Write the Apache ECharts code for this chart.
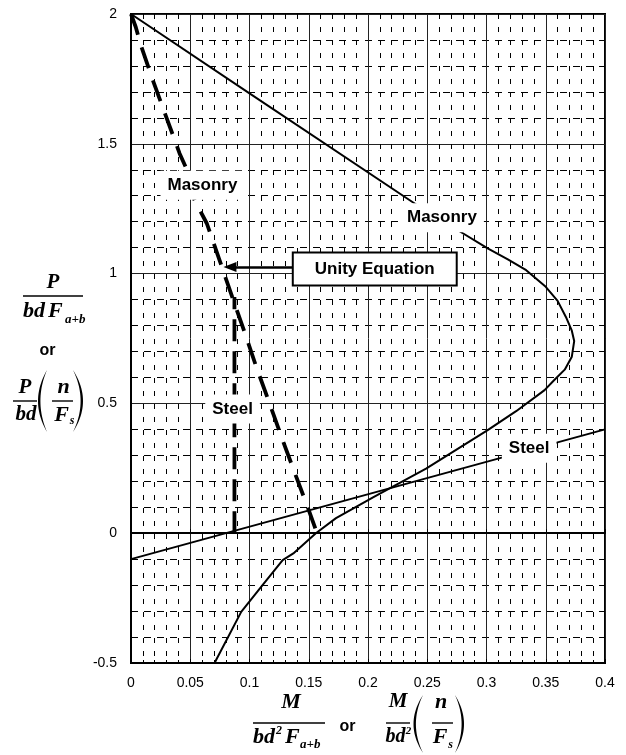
<!DOCTYPE html>
<html>
<head>
<meta charset="utf-8">
<script src="https://cdn.jsdelivr.net/npm/echarts@6/dist/echarts.min.js"></script>
<style>
  html, body { margin: 0; padding: 0; background: #fff; }
  #chart { width: 626px; height: 755px; }
</style>
</head>
<body>
<div id="chart"></div>
<script>
// axis ticks
const xTickLabels = ['0', '0.05', '0.1', '0.15', '0.2', '0.25', '0.3', '0.35', '0.4']
const yTickLabels = ['-0.5', '0', '0.5', '1', '1.5', '2']

// curves, [M/bd²F, P/bdF]
const masonry = [
  [0, 2], [0.1, 1.694], [0.24, 1.268], [0.2755, 1.168], [0.301, 1.097], [0.318, 1.055],
  [0.3335, 1.013], [0.35, 0.949], [0.36, 0.895], [0.367, 0.833], [0.372, 0.78], [0.374, 0.74],
  [0.372, 0.68], [0.366, 0.63], [0.357, 0.589], [0.349, 0.551], [0.325, 0.47], [0.301, 0.397],
  [0.249, 0.249], [0.205, 0.14], [0.173, 0.058], [0.156, 0], [0.137, -0.078], [0.128, -0.104],
  [0.111, -0.2], [0.093, -0.303], [0.0705, -0.5]
]
const steel = [[0, -0.1], [0.4, 0.4]]
const unity = [
  [0, 2], [0.004, 1.95], [0.0078, 1.887], [0.0184, 1.745], [0.0297, 1.604], [0.041, 1.463],
  [0.048, 1.392], [0.0536, 1.283], [0.064, 1.193], [0.0747, 1.052], [0.0854, 0.91],
  [0.0958, 0.775], [0.1057, 0.641], [0.1169, 0.5], [0.128, 0.358], [0.139, 0.223],
  [0.15, 0.089], [0.157, 0]
]
const steelUnity = [[0.0873, 0], [0.0873, 0.91]]

// curve names placed on the chart
const curveLabels = [
  [0.0603, 1.34, 'Masonry'],
  [0.2624, 1.215, 'Masonry'],
  [0.0857, 0.478, 'Steel'],
  [0.336, 0.327, 'Steel']
]
const unityBox = [0.2057, 1.018, 'Unity Equation']
const unityArrow = [[0.1359, 1.025], [0.0835, 1.025]]

const SANS = '"Liberation Sans", Arial, sans-serif'
const SERIF = '"Liberation Serif", "Times New Roman", serif'

function mathText(x, y, text, size, align) {
  return {
    type: 'text', x: x, y: y, silent: true,
    style: {
      text: text, font: 'italic bold ' + size + 'px ' + SERIF,
      fill: '#000', align: align || 'center', verticalAlign: 'middle'
    }
  }
}
function plainText(x, y, text) {
  return {
    type: 'text', x: x, y: y, silent: true,
    style: { text: text, font: 'bold 16px ' + SANS, fill: '#000', align: 'center', verticalAlign: 'middle' }
  }
}
function bar(x1, x2, y) {
  return { type: 'line', silent: true, shape: { x1: x1, y1: y, x2: x2, y2: y }, style: { stroke: '#000', lineWidth: 1.4 } }
}
// tall bracket drawn as a filled crescent
function paren(xEnd, xMid, y1, y2) {
  const dir = xMid < xEnd ? 1 : -1
  const outerC = 2 * xMid - xEnd
  const innerC = 2 * (xMid + dir * 2.4) - xEnd
  const pts = []
  const n = 24
  for (let i = 0; i <= n; i++) {
    const t = i / n
    pts.push([(1 - t) * (1 - t) * xEnd + 2 * t * (1 - t) * outerC + t * t * xEnd, y1 + (y2 - y1) * t])
  }
  for (let i = n; i >= 0; i--) {
    const t = i / n
    pts.push([(1 - t) * (1 - t) * xEnd + 2 * t * (1 - t) * innerC + t * t * xEnd, y1 + (y2 - y1) * t])
  }
  return { type: 'polygon', silent: true, shape: { points: pts }, style: { fill: '#000' } }
}

const titles = [
  // y axis: P / bdF(a+b)  or  P/bd (n/Fs)
  mathText(53, 283, 'P', 21),
  bar(23, 83, 296),
  mathText(23, 311, 'bd', 22, 'left'),
  mathText(48, 311, 'F', 22, 'left'),
  mathText(65, 320, 'a+b', 13, 'left'),
  plainText(47.5, 351, 'or'),
  mathText(25, 388, 'P', 21),
  bar(13, 37, 401),
  mathText(26, 415, 'bd', 21),
  paren(47, 38, 370, 432),
  mathText(63.5, 387, 'n', 22),
  bar(52, 73, 401),
  mathText(61.5, 415, 'F', 22),
  mathText(72, 421, 's', 12),
  paren(73, 83, 370, 432),
  // x axis: M / bd²F(a+b)  or  M/bd² (n/Fs)
  mathText(291, 702, 'M', 22),
  bar(253, 325, 723),
  mathText(253, 737, 'bd', 22, 'left'),
  mathText(279, 731, '2', 12),
  mathText(285, 737, 'F', 22, 'left'),
  mathText(300, 745, 'a+b', 13, 'left'),
  plainText(347.5, 727, 'or'),
  mathText(398, 702, 'M', 21),
  bar(386, 410, 723),
  mathText(385.5, 737, 'bd', 20, 'left'),
  mathText(408.5, 731, '2', 11),
  paren(423, 413.5, 695, 753),
  mathText(441, 702, 'n', 22),
  bar(432, 453, 723),
  mathText(440, 737, 'F', 22),
  mathText(450.5, 745, 's', 12),
  paren(455, 464, 695, 753)
]

const chart = echarts.init(document.getElementById('chart'), null, { renderer: 'canvas' })

const labelFont = { fontFamily: SANS, fontWeight: 'bold', fontSize: 17, color: '#000' }

chart.setOption({
  animation: false,
  backgroundColor: '#fff',
  grid: {
    left: 131, right: 21, top: 14, bottom: 92,
    show: true, borderColor: '#000', borderWidth: 2
  },
  xAxis: [
    {
      type: 'value', min: 0, max: 0.4, interval: 0.05,
      axisLine: { onZero: false, lineStyle: { color: '#000', width: 2 } },
      axisTick: { show: true, inside: true, length: 4, lineStyle: { color: '#000' } },
      minorTick: { show: true, splitNumber: 5, length: 3, lineStyle: { color: '#000' } },
      axisLabel: {
        margin: 13, fontSize: 14, fontFamily: SANS, color: '#000',
        formatter: (v) => xTickLabels[Math.round(v / 0.05)]
      },
      splitLine: { show: true, lineStyle: { color: '#222', width: 1 } },
      minorSplitLine: { show: true, lineStyle: { color: '#000', width: 1, type: [5, 8] } }
    },
    {
      // the zero line with its small ticks
      type: 'value', min: 0, max: 0.4, interval: 0.05, position: 'bottom',
      axisLine: { onZero: true, lineStyle: { color: '#000', width: 2 } },
      axisTick: { show: true, inside: true, length: 4, lineStyle: { color: '#000' } },
      axisLabel: { show: false },
      splitLine: { show: false }
    }
  ],
  yAxis: {
    type: 'value', min: -0.5, max: 2, interval: 0.5,
    axisLine: { show: true, onZero: false, lineStyle: { color: '#000', width: 2 } },
    axisTick: { show: false },
    minorTick: { show: false, splitNumber: 5 },
    axisLabel: {
      margin: 14, fontSize: 14, fontFamily: SANS, color: '#000',
      formatter: (v) => yTickLabels[Math.round((v + 0.5) / 0.5)]
    },
    splitLine: { show: true, lineStyle: { color: '#222', width: 1 } },
    minorSplitLine: { show: true, lineStyle: { color: '#000', width: 1, type: [7, 6] } }
  },
  graphic: titles,
  series: [
    {
      name: 'Masonry', type: 'line', data: masonry, symbol: 'none', z: 3,
      lineStyle: { color: '#000', width: 2 }
    },
    {
      name: 'Steel', type: 'line', data: steel, symbol: 'none', z: 3,
      lineStyle: { color: '#000', width: 2 }
    },
    {
      name: 'Unity masonry', type: 'line', data: unity, symbol: 'none', z: 3,
      lineStyle: { color: '#000', width: 3.8, type: [22, 13] }
    },
    {
      name: 'Unity steel', type: 'line', data: steelUnity, symbol: 'none', z: 3,
      lineStyle: { color: '#000', width: 3.8, type: [22, 10] }
    },
    {
      name: 'labels', type: 'scatter', z: 10, symbolSize: 1, silent: true,
      itemStyle: { color: 'transparent', opacity: 1 },
      data: curveLabels,
      label: Object.assign({
        show: true, position: 'inside', formatter: (p) => p.data[2],
        backgroundColor: '#fff', padding: [6, 7]
      }, labelFont)
    },
    {
      name: 'unity box', type: 'scatter', z: 11, symbolSize: 1, silent: true,
      itemStyle: { color: 'transparent', opacity: 1 },
      data: [unityBox],
      label: Object.assign({
        show: true, position: 'inside', formatter: (p) => p.data[2],
        backgroundColor: '#fff', borderColor: '#000', borderWidth: 2, padding: [7, 21]
      }, labelFont),
      markLine: {
        silent: true, animation: false,
        symbol: ['none', 'triangle'], symbolSize: [10, 13],
        label: { show: false },
        lineStyle: { color: '#000', width: 2.5, type: 'solid', opacity: 1 },
        data: [[{ coord: unityArrow[0] }, { coord: unityArrow[1] }]]
      }
    }
  ]
})
</script>
</body>
</html>
